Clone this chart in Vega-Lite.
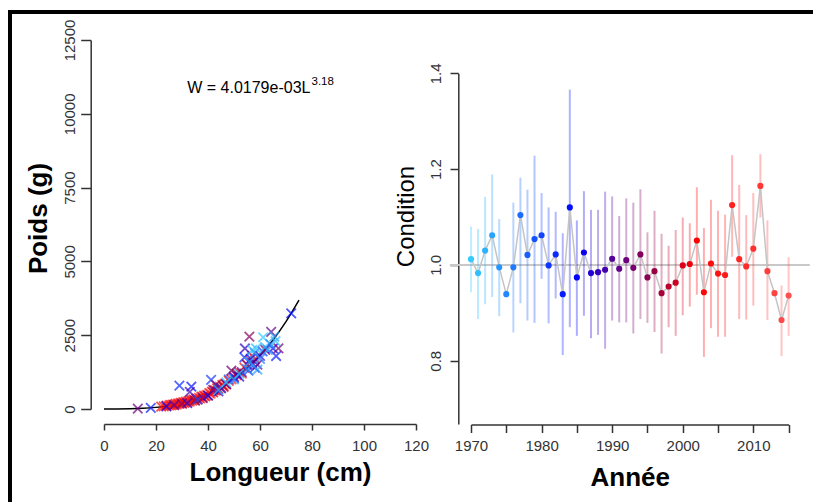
{
  "$schema": "https://vega.github.io/schema/vega-lite/v6.json",
  "width": 803,
  "height": 490,
  "autosize": "none",
  "padding": {"left": 10, "top": 12, "right": 0, "bottom": 0},
  "background": "white",
  "config": {
    "view": {"stroke": "black", "strokeWidth": 4, "strokeDash": [803, 1293, 490], "strokeCap": "square"},
    "font": "Liberation Sans",
    "axis": {
      "grid": false,
      "labelFont": "Liberation Sans",
      "labelFontSize": 15,
      "labelColor": "#333333",
      "labelFlush": false,
      "labelOverlap": false,
      "domainColor": "#333333",
      "domainWidth": 1.5,
      "tickColor": "#333333",
      "tickWidth": 1.5,
      "titleFont": "Liberation Sans",
      "titleColor": "black"
    }
  },
  "datasets": {
    "courbe": [
      {"L": 0, "W": 0}, {"L": 5, "W": 0.67}, {"L": 10, "W": 6.1}, {"L": 15, "W": 22.1},
      {"L": 20, "W": 55.1}, {"L": 25, "W": 112.1}, {"L": 30, "W": 200.1}, {"L": 35, "W": 326.7},
      {"L": 40, "W": 499.6}, {"L": 45, "W": 726.7}, {"L": 50, "W": 1015.6}, {"L": 55, "W": 1375},
      {"L": 60, "W": 1813}, {"L": 65, "W": 2339}, {"L": 70, "W": 2961}, {"L": 75, "W": 3687}
    ],
    "poids": [
      {"L": 22, "W": 80, "annee": 2003}, {"L": 23, "W": 90, "annee": 2005}, {"L": 24, "W": 110, "annee": 2001},
      {"L": 25, "W": 115, "annee": 2008}, {"L": 25.5, "W": 140, "annee": 2004}, {"L": 26, "W": 120, "annee": 2006},
      {"L": 26.5, "W": 150, "annee": 2002}, {"L": 27, "W": 140, "annee": 2010}, {"L": 27.5, "W": 170, "annee": 2000},
      {"L": 28, "W": 150, "annee": 2009}, {"L": 28.5, "W": 190, "annee": 2003}, {"L": 29, "W": 170, "annee": 2007},
      {"L": 29.5, "W": 210, "annee": 2001}, {"L": 30, "W": 190, "annee": 2011}, {"L": 30.5, "W": 230, "annee": 2005},
      {"L": 31, "W": 210, "annee": 2002}, {"L": 31.5, "W": 250, "annee": 2004}, {"L": 32, "W": 230, "annee": 2012},
      {"L": 32.5, "W": 270, "annee": 2000}, {"L": 33, "W": 250, "annee": 2008}, {"L": 33.5, "W": 300, "annee": 2003},
      {"L": 34, "W": 280, "annee": 2006}, {"L": 34.5, "W": 320, "annee": 2001}, {"L": 35, "W": 300, "annee": 2009},
      {"L": 35.5, "W": 350, "annee": 2002}, {"L": 36, "W": 330, "annee": 2005}, {"L": 36.5, "W": 380, "annee": 2010},
      {"L": 37, "W": 360, "annee": 2004}, {"L": 37.5, "W": 420, "annee": 2000}, {"L": 38, "W": 400, "annee": 2007},
      {"L": 38.5, "W": 450, "annee": 2003}, {"L": 39, "W": 430, "annee": 2001}, {"L": 39.5, "W": 480, "annee": 2011},
      {"L": 40, "W": 460, "annee": 2006}, {"L": 40.5, "W": 540, "annee": 2002}, {"L": 41, "W": 520, "annee": 2009},
      {"L": 41.5, "W": 590, "annee": 2004}, {"L": 42, "W": 560, "annee": 2000}, {"L": 42.5, "W": 640, "annee": 2008},
      {"L": 43, "W": 620, "annee": 2003}, {"L": 43.5, "W": 700, "annee": 2005}, {"L": 44, "W": 680, "annee": 2001},
      {"L": 44.5, "W": 760, "annee": 2012}, {"L": 45, "W": 720, "annee": 2002}, {"L": 45.5, "W": 820, "annee": 2007},
      {"L": 46, "W": 780, "annee": 2004}, {"L": 46.5, "W": 860, "annee": 2010}, {"L": 47, "W": 830, "annee": 2000},
      {"L": 48, "W": 950, "annee": 2003}, {"L": 49, "W": 1000, "annee": 2006}, {"L": 50, "W": 1100, "annee": 2001},
      {"L": 51, "W": 1150, "annee": 2005}, {"L": 52, "W": 1250, "annee": 2002}, {"L": 53, "W": 1200, "annee": 2009},
      {"L": 54, "W": 1400, "annee": 2004}, {"L": 55, "W": 1500, "annee": 2011}, {"L": 56, "W": 1650, "annee": 2003},
      {"L": 57, "W": 1800, "annee": 2000}, {"L": 58, "W": 1700, "annee": 2007},
      {"L": 13, "W": 10, "annee": 1992}, {"L": 18, "W": 40, "annee": 1983}, {"L": 24, "W": 90, "annee": 1986},
      {"L": 27, "W": 130, "annee": 1990}, {"L": 29, "W": 790, "annee": 1982}, {"L": 30, "W": 180, "annee": 1994},
      {"L": 32, "W": 200, "annee": 1988}, {"L": 33.6, "W": 760, "annee": 1984}, {"L": 33, "W": 580, "annee": 1989},
      {"L": 35, "W": 280, "annee": 1996}, {"L": 36, "W": 320, "annee": 1980}, {"L": 38, "W": 370, "annee": 1993},
      {"L": 40, "W": 450, "annee": 1985}, {"L": 41.2, "W": 990, "annee": 1981}, {"L": 42, "W": 650, "annee": 1991},
      {"L": 43, "W": 820, "annee": 1995}, {"L": 44, "W": 600, "annee": 1987}, {"L": 45, "W": 700, "annee": 1982},
      {"L": 46, "W": 750, "annee": 1997}, {"L": 47, "W": 850, "annee": 1989}, {"L": 48, "W": 1000, "annee": 1979},
      {"L": 49, "W": 1300, "annee": 1992}, {"L": 50, "W": 1050, "annee": 1984}, {"L": 51, "W": 1200, "annee": 1996},
      {"L": 52, "W": 1100, "annee": 1986}, {"L": 53, "W": 1250, "annee": 1990}, {"L": 54.2, "W": 2050, "annee": 1988},
      {"L": 54, "W": 1750, "annee": 1982}, {"L": 55, "W": 1500, "annee": 1993}, {"L": 55.5, "W": 1300, "annee": 1980},
      {"L": 55.9, "W": 2450, "annee": 1994}, {"L": 56.5, "W": 1700, "annee": 1985}, {"L": 57, "W": 1550, "annee": 1989},
      {"L": 58, "W": 1400, "annee": 1983}, {"L": 59, "W": 1500, "annee": 1991}, {"L": 60, "W": 1800, "annee": 1987},
      {"L": 61, "W": 1950, "annee": 1981}, {"L": 62, "W": 2000, "annee": 1995}, {"L": 64.3, "W": 2610, "annee": 1991},
      {"L": 65, "W": 2050, "annee": 1986}, {"L": 66.2, "W": 1795, "annee": 1983}, {"L": 67.1, "W": 2055, "annee": 1993},
      {"L": 72, "W": 3240, "annee": 1984},
      {"L": 44, "W": 650, "annee": 1972}, {"L": 47, "W": 900, "annee": 1970}, {"L": 50, "W": 1000, "annee": 1973},
      {"L": 52, "W": 1200, "annee": 1971}, {"L": 55, "W": 1350, "annee": 1975}, {"L": 56, "W": 1600, "annee": 1972},
      {"L": 57, "W": 2000, "annee": 1970}, {"L": 58, "W": 1900, "annee": 1974}, {"L": 58.5, "W": 2050, "annee": 1971},
      {"L": 59, "W": 1330, "annee": 1973}, {"L": 60, "W": 1700, "annee": 1976}, {"L": 61.2, "W": 2430, "annee": 1970},
      {"L": 62, "W": 2100, "annee": 1972}, {"L": 63, "W": 2000, "annee": 1974}, {"L": 64, "W": 2200, "annee": 1975},
      {"L": 65.5, "W": 2450, "annee": 1973}, {"L": 66, "W": 2300, "annee": 1971}
    ],
    "equation": [{"L": 79.4, "W": 10694, "t": "W = 4.0179e-03L"}],
    "exposant": [{"L": 79.8, "W": 10976, "t": "3.18"}],
    "condition": [
      {"annee": 1970, "cond": 1.012, "lo": 0.943, "hi": 1.080},
      {"annee": 1971, "cond": 0.983, "lo": 0.887, "hi": 1.075},
      {"annee": 1972, "cond": 1.030, "lo": 0.918, "hi": 1.142},
      {"annee": 1973, "cond": 1.062, "lo": 0.933, "hi": 1.189},
      {"annee": 1974, "cond": 0.995, "lo": 0.893, "hi": 1.096},
      {"annee": 1975, "cond": 0.939, "lo": null, "hi": null},
      {"annee": 1976, "cond": 0.995, "lo": 0.859, "hi": 1.130},
      {"annee": 1977, "cond": 1.104, "lo": 0.920, "hi": 1.182},
      {"annee": 1978, "cond": 1.021, "lo": 0.884, "hi": 1.157},
      {"annee": 1979, "cond": 1.054, "lo": 0.879, "hi": 1.228},
      {"annee": 1980, "cond": 1.062, "lo": 0.971, "hi": 1.150},
      {"annee": 1981, "cond": 0.999, "lo": 0.878, "hi": 1.120},
      {"annee": 1982, "cond": 1.022, "lo": 0.930, "hi": 1.111},
      {"annee": 1983, "cond": 0.939, "lo": 0.812, "hi": 1.066},
      {"annee": 1984, "cond": 1.120, "lo": 0.870, "hi": 1.366},
      {"annee": 1985, "cond": 0.974, "lo": 0.852, "hi": 1.093},
      {"annee": 1986, "cond": 1.026, "lo": 0.894, "hi": 1.154},
      {"annee": 1987, "cond": 0.983, "lo": 0.847, "hi": 1.115},
      {"annee": 1988, "cond": 0.985, "lo": 0.854, "hi": 1.115},
      {"annee": 1989, "cond": 0.990, "lo": 0.825, "hi": 1.153},
      {"annee": 1990, "cond": 1.013, "lo": 0.884, "hi": 1.143},
      {"annee": 1991, "cond": 0.992, "lo": 0.880, "hi": 1.102},
      {"annee": 1992, "cond": 1.010, "lo": 0.880, "hi": 1.139},
      {"annee": 1993, "cond": 0.994, "lo": 0.857, "hi": 1.130},
      {"annee": 1994, "cond": 1.022, "lo": 0.887, "hi": 1.158},
      {"annee": 1995, "cond": 0.974, "lo": 0.879, "hi": 1.068},
      {"annee": 1996, "cond": 0.987, "lo": 0.860, "hi": 1.113},
      {"annee": 1997, "cond": 0.941, "lo": 0.815, "hi": 1.065},
      {"annee": 1998, "cond": 0.955, "lo": 0.870, "hi": 1.040},
      {"annee": 1999, "cond": 0.963, "lo": 0.852, "hi": 1.073},
      {"annee": 2000, "cond": 0.999, "lo": 0.895, "hi": 1.099},
      {"annee": 2001, "cond": 1.002, "lo": 0.913, "hi": 1.087},
      {"annee": 2002, "cond": 1.051, "lo": 0.938, "hi": 1.162},
      {"annee": 2003, "cond": 0.943, "lo": 0.808, "hi": 1.077},
      {"annee": 2004, "cond": 1.003, "lo": 0.868, "hi": 1.136},
      {"annee": 2005, "cond": 0.982, "lo": 0.850, "hi": 1.113},
      {"annee": 2006, "cond": 0.979, "lo": 0.850, "hi": 1.105},
      {"annee": 2007, "cond": 1.125, "lo": 1.017, "hi": 1.229},
      {"annee": 2008, "cond": 1.012, "lo": 0.887, "hi": 1.167},
      {"annee": 2009, "cond": 0.997, "lo": 0.886, "hi": 1.104},
      {"annee": 2010, "cond": 1.034, "lo": 0.915, "hi": 1.150},
      {"annee": 2011, "cond": 1.165, "lo": 1.099, "hi": 1.231},
      {"annee": 2012, "cond": 0.987, "lo": 0.885, "hi": 1.093},
      {"annee": 2013, "cond": 0.941, "lo": null, "hi": null},
      {"annee": 2014, "cond": 0.885, "lo": 0.810, "hi": 0.957},
      {"annee": 2015, "cond": 0.936, "lo": 0.852, "hi": 1.016}
    ],
    "reference": [{"annee": 1967, "annee2": 2018, "cond": 1.0}]
  },
  "layer": [
    {
      "layer": [
        {
          "data": {"name": "courbe"},
          "mark": {"type": "line", "color": "black", "strokeWidth": 1.5, "interpolate": "monotone"},
          "encoding": {
            "x": {
              "field": "L", "type": "quantitative", "title": "Longueur (cm)",
              "scale": {"domain": [0, 120], "range": [94, 406], "nice": false, "zero": false},
              "axis": {
                "orient": "bottom", "offset": -78, "values": [0, 20, 40, 60, 80, 100, 120], "format": "d",
                "tickSize": 6, "labelPadding": 20.7, "labelBaseline": "alphabetic",
                "titleFontSize": 26, "titleFontWeight": "bold", "titleX": 270, "titleY": 56,
                "titleBaseline": "alphabetic", "titleAlign": "center"
              }
            },
            "y": {
              "field": "W", "type": "quantitative", "title": "Poids (g)",
              "scale": {"domain": [0, 12500], "range": [397, 28], "nice": false, "zero": false},
              "axis": {
                "orient": "left", "offset": -80.7, "values": [0, 2500, 5000, 7500, 10000, 12500], "format": "d",
                "tickSize": 10, "labelAngle": -90, "labelAlign": "center", "labelBaseline": "alphabetic",
                "labelPadding": 6.2,
                "titleFontSize": 26, "titleFontWeight": "bold", "titleAngle": -90, "titleX": -44, "titleY": 206,
                "titleBaseline": "alphabetic", "titleAlign": "center"
              }
            }
          }
        },
        {
          "data": {"name": "poids"},
          "mark": {"type": "point", "shape": "M-1,-1L1,1M-1,1L1,-1", "filled": false, "size": 90, "strokeWidth": 1.8, "opacity": 0.7},
          "encoding": {
            "x": {"field": "L", "type": "quantitative", "title": "Longueur (cm)"},
            "y": {"field": "W", "type": "quantitative", "title": "Poids (g)"},
            "color": {
              "field": "annee", "type": "quantitative", "legend": null,
              "scale": {
                "domain": [1970, 1985, 1990, 1996, 2002, 2015],
                "range": ["#33ccff", "#0000ff", "#550099", "#990044", "#ff0000", "#ff5050"],
                "interpolate": "rgb"
              }
            }
          }
        },
        {
          "data": {"name": "equation"},
          "mark": {"type": "text", "align": "right", "baseline": "alphabetic", "fontSize": 16, "color": "black", "font": "Liberation Sans"},
          "encoding": {
            "x": {"field": "L", "type": "quantitative", "title": "Longueur (cm)"},
            "y": {"field": "W", "type": "quantitative", "title": "Poids (g)"},
            "text": {"field": "t"}
          }
        },
        {
          "data": {"name": "exposant"},
          "mark": {"type": "text", "align": "left", "baseline": "alphabetic", "fontSize": 11.5, "color": "black", "font": "Liberation Sans"},
          "encoding": {
            "x": {"field": "L", "type": "quantitative", "title": "Longueur (cm)"},
            "y": {"field": "W", "type": "quantitative", "title": "Poids (g)"},
            "text": {"field": "t"}
          }
        }
      ]
    },
    {
      "layer": [
        {
          "data": {"name": "reference"},
          "mark": {"type": "rule", "color": "#c8c8c8", "strokeWidth": 2},
          "encoding": {
            "x": {
              "field": "annee", "type": "quantitative", "title": "Année",
              "scale": {"domain": [1970, 2015], "range": [461, 778.6], "nice": false, "zero": false},
              "axis": {
                "orient": "bottom", "offset": -77.5, "values": [1970, 1975, 1980, 1985, 1990, 1995, 2000, 2005, 2010, 2015],
                "format": "d", "labelExpr": "datum.value % 10 == 0 ? datum.label : ''",
                "tickSize": 8, "labelPadding": 17.5, "labelBaseline": "alphabetic",
                "titleFontSize": 26, "titleFontWeight": "bold", "titleY": 60.5, "titleBaseline": "alphabetic"
              }
            },
            "x2": {"field": "annee2"},
            "y": {
              "field": "cond", "type": "quantitative", "title": "Condition",
              "scale": {"domain": [0.668, 1.4], "range": [412, 61.3], "nice": false, "zero": false},
              "axis": {
                "orient": "left", "offset": -448.3, "values": [0.8, 1.0, 1.2, 1.4], "format": ".1f",
                "tickSize": 8.3, "labelAngle": -90, "labelAlign": "center", "labelBaseline": "alphabetic",
                "labelPadding": 9.3,
                "titleFontSize": 24, "titleFontWeight": "normal", "titleAngle": -90, "titleX": -45, "titleY": 204,
                "titleBaseline": "alphabetic", "titleAlign": "center"
              }
            }
          }
        },
        {
          "data": {"name": "condition"},
          "transform": [{"filter": "datum.lo != null"}],
          "mark": {"type": "rule", "strokeWidth": 2, "opacity": 0.32},
          "encoding": {
            "x": {"field": "annee", "type": "quantitative", "title": "Année"},
            "y": {"field": "lo", "type": "quantitative", "title": "Condition"},
            "y2": {"field": "hi"},
            "color": {"field": "annee", "type": "quantitative", "legend": null}
          }
        },
        {
          "data": {"name": "condition"},
          "mark": {"type": "line", "color": "#c4c4c4", "strokeWidth": 1.5},
          "encoding": {
            "x": {"field": "annee", "type": "quantitative", "title": "Année"},
            "y": {"field": "cond", "type": "quantitative", "title": "Condition"}
          }
        },
        {
          "data": {"name": "condition"},
          "mark": {"type": "circle", "size": 38, "opacity": 1},
          "encoding": {
            "x": {"field": "annee", "type": "quantitative", "title": "Année"},
            "y": {"field": "cond", "type": "quantitative", "title": "Condition"},
            "color": {"field": "annee", "type": "quantitative", "legend": null}
          }
        }
      ]
    }
  ],
  "resolve": {"scale": {"x": "independent", "y": "independent"}}
}
